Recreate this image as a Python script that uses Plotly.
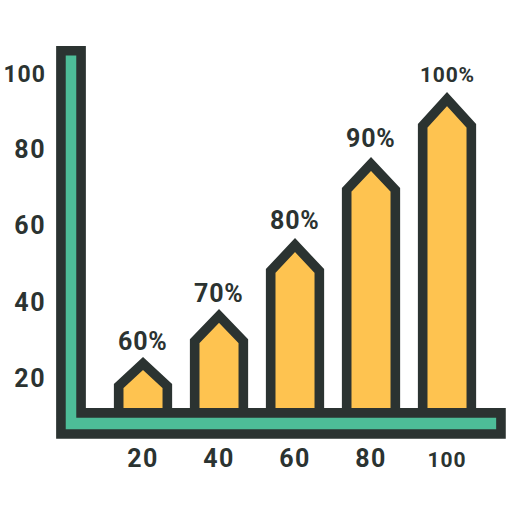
import plotly.graph_objects as go

# values
categories = [20, 40, 60, 80, 100]
tips = [23.8, 36.3, 54.9, 76.2, 93.2]
shoulders = [17.9, 29.7, 48.1, 69.4, 86.2]
percent_labels = ['60%', '70%', '80%', '90%', '100%']
y_ticks = [20, 40, 60, 80, 100]

# L shaped axis frame, in axis units (starts mid segment so the joins stay clean)
frame_x = [1.0, 3.7, 3.7, 114.2, 114.2, -1.6, -1.6, 1.0]
frame_y = [105.9, 105.9, 10.85, 10.85, 5.3, 5.3, 105.9, 105.9]

DARK = '#2b3331'
ORANGE = '#fec350'
GREEN = '#4dbd98'
STROKE = 9.6
HALF_WIDTH = 6.4
BASE = 10.85

# Hide modebar
config = {'displayModeBar': False}

fig = go.Figure()

# arrow shaped bars
for cat, tip, shoulder in zip(categories, tips, shoulders):
    fig.add_trace(go.Scatter(
        x=[cat - HALF_WIDTH, cat - HALF_WIDTH, cat, cat + HALF_WIDTH, cat + HALF_WIDTH],
        y=[BASE, shoulder, tip, shoulder, BASE],
        mode='lines',
        fill='toself',
        fillcolor=ORANGE,
        line=dict(color=DARK, width=STROKE),
        cliponaxis=False,
        hoverinfo='skip',
        showlegend=False))

# axis frame on top of the bars
fig.add_trace(go.Scatter(
    x=frame_x,
    y=frame_y,
    mode='lines',
    fill='toself',
    fillcolor=GREEN,
    line=dict(color=DARK, width=STROKE),
    cliponaxis=False,
    hoverinfo='skip',
    showlegend=False))

# percent labels above each bar
label_lift = [6, 6, 8, 9, 10]
for cat, tip, label, lift in zip(categories, tips, percent_labels, label_lift):
    fig.add_annotation(
        x=cat,
        y=tip,
        text='<span style="letter-spacing:0.8px"><b>' + label + '</b></span>',
        showarrow=False,
        yanchor='bottom',
        yshift=lift,
        font=dict(family='Roboto', size=21 if label == '100%' else 25, color=DARK))

fig.update_layout(
    width=512,
    height=512,
    margin=dict(l=52, r=4, t=44, b=71),
    paper_bgcolor='#ffffff',
    plot_bgcolor='#ffffff',
    showlegend=False)

tick_style = '<span style="letter-spacing:1.5px"><b>{0}</b></span>'
small_tick = '<span style="font-size:{0}px;letter-spacing:1px"><b>100</b></span>'

fig.update_xaxes(
    range=[-3.95, 116.05],
    tickmode='array',
    tickvals=categories,
    ticktext=[small_tick.format(21) if c == 100 else tick_style.format(c) for c in categories],
    showgrid=False,
    zeroline=False,
    showline=False,
    ticks='',
    tickfont=dict(family='Roboto', size=25, color=DARK))

fig.update_yaxes(
    range=[3.48, 107.66],
    tickmode='array',
    tickvals=y_ticks,
    ticktext=[small_tick.format(23) if v == 100 else tick_style.format(v) for v in y_ticks],
    ticklabelstandoff=5,
    showgrid=False,
    zeroline=False,
    showline=False,
    ticks='',
    tickfont=dict(family='Roboto', size=25, color=DARK))

# page has a default 8px body margin, drop it
fig.write_html("out.html", config=config, post_script="document.body.style.margin='0'")
